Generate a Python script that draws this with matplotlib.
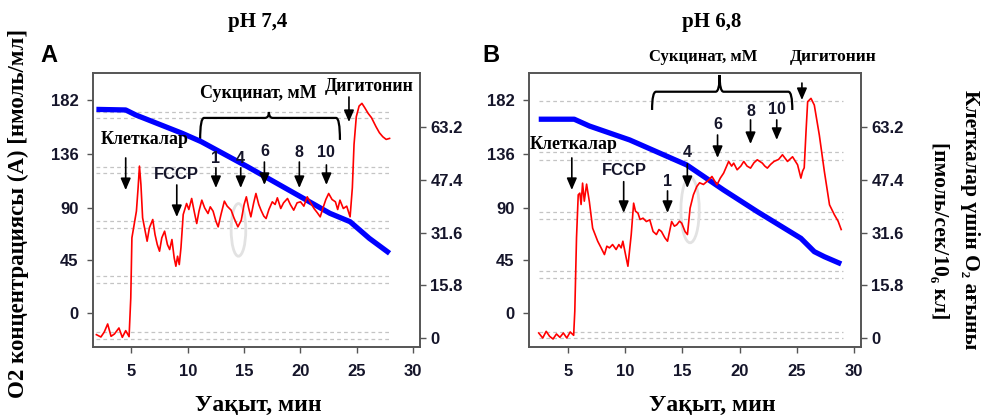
import matplotlib.pyplot as plt
from matplotlib.path import Path
from matplotlib.patches import PathPatch, Ellipse

plt.rcParams['font.family'] = ['Liberation Sans Narrow', 'Liberation Sans', 'DejaVu Sans']
plt.rcParams['font.weight'] = 'bold'
SERIF = ['Liberation Serif', 'DejaVu Serif']

# axis ticks
x_ticks = [5, 10, 15, 20, 25, 30]
left_ticks = [0, 45, 90, 136, 182]
right_ticks = [0, 15.8, 31.6, 47.4, 63.2]

# panel A (pH 7,4): cell O2 flux, red (right axis)
t_red_a = [1.9, 2.3, 2.6, 2.9, 3.2, 3.5, 3.9, 4.2, 4.5, 4.8, 4.95, 5.05, 5.25, 5.45, 5.6,
           5.72, 5.85, 6.0, 6.2, 6.4, 6.6, 6.9, 7.1, 7.3, 7.5, 7.7, 7.95, 8.2, 8.4, 8.6,
           8.8, 8.95, 9.1, 9.25, 9.4, 9.6, 9.9, 10.1, 10.35, 10.6, 10.8, 11.0, 11.25, 11.5,
           11.8, 12.0, 12.25, 12.5, 12.7, 12.95, 13.25, 13.5, 13.85, 14.1, 14.45, 14.75,
           15.0, 15.2, 15.4, 15.6, 15.85, 16.05, 16.3, 16.5, 16.75, 16.95, 17.2, 17.5,
           17.75, 17.95, 18.25, 18.5, 18.85, 19.1, 19.4, 19.7, 20.0, 20.3, 20.6, 20.9,
           21.2, 21.5, 21.75, 22.0, 22.25, 22.5, 22.8, 23.1, 23.3, 23.5, 23.8, 24.1, 24.4,
           24.6, 24.75, 24.95, 25.2, 25.45, 25.7, 26.0, 26.3, 26.7, 27.0, 27.3, 27.6, 27.9]
red_a = [1.0, 0.3, 1.8, 4.2, 0.5, 1.2, 3.0, 0.2, 2.2, 0.4, 12, 30, 34, 38, 45,
         51.5, 46, 36, 32.5, 29, 33, 35.5, 31, 28, 26, 30, 32, 28, 26.5, 29.5,
         24, 21.5, 24.5, 22, 27, 37, 40.3, 38.5, 41.8, 37.5, 34.3, 38, 41.3, 39,
         37.3, 39.3, 38, 35, 33.3, 37, 41, 39.5, 38.3, 36, 33.3, 35.3,
         40, 42.3, 39, 36.3, 40.5, 43.3, 40, 38.3, 36.5, 35.8, 38.5, 40.8,
         40, 42, 38.8, 40.5, 41.8, 40, 38.3, 40.5, 40.8, 39.5, 42.3, 40.5,
         38.8, 37.5, 36.3, 39, 41.5, 43.3, 41.5, 40.8, 38.5, 41.3, 38.8, 39.5, 36.3,
         45, 58, 66.3, 69.5, 70.3, 69, 67.3, 66, 63.3, 61.5, 60.3, 59.5, 59.8]

# panel A: O2 concentration, blue (left axis)
t_blue_a = [1.9, 4.5, 5.4, 9.5, 11.2, 15.3, 20.0, 22.6, 24.4, 26.1, 27.9]
blue_a = [174, 173.5, 169.2, 153.6, 146.4, 125.0, 99.4, 85.2, 78.0, 63.8, 51.0]

# panel B (pH 6,8)
t_red_b = [2.45, 2.8, 3.1, 3.4, 3.7, 4.0, 4.3, 4.6, 4.9, 5.2, 5.5, 5.6, 5.75, 5.9, 6.04,
           6.15, 6.28, 6.43, 6.63, 6.87, 7.16, 7.6, 7.9, 8.19, 8.4, 8.63, 8.9, 9.21, 9.45,
           9.65, 9.8, 10.09, 10.24, 10.53, 10.74, 10.9, 11.12, 11.3, 11.56, 11.85, 12.15,
           12.44, 12.73, 12.95, 13.17, 13.47, 13.7, 14.06, 14.3, 14.5, 14.75, 14.94, 15.23,
           15.44, 15.67, 15.96, 16.26, 16.5, 16.84, 17.14, 17.35, 17.58, 18.02, 18.31,
           18.6, 19.04, 19.3, 19.48, 19.78, 20.1, 20.36, 20.65, 20.95, 21.25, 21.54,
           21.98, 22.2, 22.42, 22.7, 23.0, 23.4, 23.74, 24.18, 24.62, 25.06, 25.35, 25.5,
           25.64, 25.8, 25.94, 26.23, 26.52, 26.96, 27.4, 27.85, 28.28, 28.6, 28.87]
red_b = [1.5, 0.0, 2.0, 0.5, -0.3, 1.2, 0.2, 1.5, 0.0, 1.8, 0.8, 8, 30, 42.9, 43.4,
         40, 46.4, 41, 46.1, 40.9, 32.9, 29.0, 27, 25.0, 27.5, 27.0, 28, 26.5, 28,
         27.0, 29.0, 24.0, 21.5, 31.0, 40.4, 38, 37.4, 35.5, 35.9, 34.9, 35.4,
         31.9, 31.0, 32.5, 31.9, 30.0, 29.0, 34.9, 33.5, 33.9, 35.0, 34.4, 31.9,
         31.0, 38.9, 42.9, 45.4, 46.5, 46.0, 46.9, 47.5, 48.4, 45.9, 47.9,
         49.4, 52.9, 51.5, 52.4, 50.4, 51.5, 52.9, 51.5, 50.9, 52.5, 53.4,
         52.4, 51.5, 50.9, 52.0, 52.9, 53.5, 54.9, 52.9, 54.3, 51.9, 47.9, 50,
         51, 62, 70.8, 71.8, 69.8, 60.8, 49.9, 39.9, 36.9, 35, 32.5]

t_blue_b = [2.45, 5.55, 6.87, 10.39, 15.38, 18.6, 21.54, 25.35, 26.52, 27.4, 28.87]
blue_b = [165.6, 165.6, 159.8, 147.9, 126.5, 105.1, 86.6, 63.8, 52.4, 48.1, 41.9]

# dashed reference lines (left-axis units)
grid_a = [-22.2, -16.2, 25.6, 31.6, 72.6, 78.6, 119.7, 124.8, 166.7, 171.8]
grid_b = [-21.4, -16.2, 29.9, 35.9, 80.3, 86.3, 130.8, 137.6, 181.2]

# arrows: label, x, text y, arrow top, arrow tip
arrows_a = [('1', 12.5, 131.6, 124, 106.8), ('4', 14.7, 131.6, 124, 106.8),
            ('6', 16.8, 137.6, 129, 109.4), ('8', 19.9, 136.8, 129, 106.8),
            ('10', 22.3, 136.8, 126.5, 109.4)]
arrows_b = [('1', 13.7, 112.2, 104.3, 85.5), ('4', 15.43, 136.8, 127.4, 106.8),
            ('6', 18.07, 161.5, 152.1, 132.5), ('8', 20.95, 172.6, 165, 144.4),
            ('10', 23.24, 173.5, 165, 147.9)]

TXT = '#15152a'


def arrow(ax, x, y0, y1):
    ax.annotate('', xy=(x, y1), xytext=(x, y0),
                arrowprops=dict(arrowstyle='-|>,head_length=0.7,head_width=0.3',
                                color='black', lw=1.2, shrinkA=0, shrinkB=0))


def brace(ax, x0, x1, xc, yh, ytip, ycusp):
    dx = 0.35
    verts = [(x0, ytip), (x0, yh), (x0 + dx, yh), (xc - dx, yh), (xc, yh), (xc, ycusp),
             (xc, yh), (xc + dx, yh), (x1 - dx, yh), (x1, yh), (x1, ytip)]
    codes = [Path.MOVETO, Path.CURVE3, Path.CURVE3, Path.LINETO, Path.CURVE3, Path.CURVE3,
             Path.CURVE3, Path.CURVE3, Path.LINETO, Path.CURVE3, Path.CURVE3]
    ax.add_patch(PathPatch(Path(verts, codes), fill=False, lw=1.6, ec='black'))


def panel(rect, t_red, red, t_blue, blue, grid, gx0, gx1):
    ax = fig.add_axes(rect)
    ax.set_xlim(1.6, 30.6)
    ax.set_ylim(-29.1, 205.1)
    ax.hlines(grid, gx0, gx1, colors='#c4c4c4', linestyles=(0, (3, 2.5)), lw=0.9, zorder=1)
    ax.plot(t_blue, blue, color='#0000ff', lw=3.8, solid_capstyle='butt', zorder=3)
    ax.set_xticks(x_ticks)
    ax.set_yticks(left_ticks)
    ax2 = ax.twinx()
    ax2.set_ylim(-2.7, 79.4)
    ax2.set_yticks(right_ticks)
    ax2.set_yticklabels(['0', '15.8', '31.6', '47.4', '63.2'])
    ax2.plot(t_red, red, color='#ff0000', lw=1.2, zorder=3)
    for a in (ax, ax2):
        for s in a.spines.values():
            s.set_color('#555555')
            s.set_linewidth(1.2)
        a.tick_params(direction='out', length=4.5, width=1, color='#555555',
                      labelsize=12, labelcolor=TXT, pad=3)
    ax.tick_params(axis='x', pad=8)
    ax.tick_params(axis='y', pad=6)
    return ax, ax2


fig = plt.figure(figsize=(9.84, 4.18), dpi=100)

# ---------- panel A ----------
ax, ax2 = panel([93 / 984, 1 - 347 / 418, 327 / 984, 274 / 418],
                t_red_a, red_a, t_blue_a, blue_a, grid_a, 1.85, 27.9)
ax.add_patch(Ellipse((14.5, 71), 1.3, 45, fill=False, ec='#e2e2e2', lw=2, zorder=2))
ax.text(6.2, 148, 'Клеткалар', family=SERIF, fontsize=12.8, ha='center', va='center')
arrow(ax, 4.5, 132.5, 105)
ax.text(9.03, 118, 'FCCP', fontsize=12, color=TXT, ha='center', va='center',
        family=['Liberation Sans', 'DejaVu Sans'])
arrow(ax, 9.03, 109.4, 82)
for lab, x, ty, y0, y1 in arrows_a:
    ax.text(x, ty, lab, fontsize=11.5, color=TXT, ha='center', va='center')
    arrow(ax, x, y0, y1)
brace(ax, 11.1, 23.5, 17.2, 166.7, 147.9, 171.8)
ax.text(16.3, 188, 'Сукцинат, мМ', family=SERIF, fontsize=13, ha='center', va='center')
ax.text(26.1, 193.2, 'Дигитонин', family=SERIF, fontsize=12.8, ha='center', va='center')
arrow(ax, 24.3, 184.6, 163.2)

# ---------- panel B ----------
bx, bx2 = panel([529 / 984, 1 - 347 / 418, 332 / 984, 274 / 418],
                t_red_b, red_b, t_blue_b, blue_b, grid_b, 2.45, 29.0)
bx.add_patch(Ellipse((15.67, 88), 1.6, 56, fill=False, ec='#e2e2e2', lw=2, zorder=2))
bx.text(5.46, 143.6, 'Клеткалар', family=SERIF, fontsize=12.8, ha='center', va='center')
arrow(bx, 5.34, 132.5, 105.1)
bx.text(9.89, 121.4, 'FCCP', fontsize=12, color=TXT, ha='center', va='center',
        family=['Liberation Sans', 'DejaVu Sans'])
arrow(bx, 9.87, 112.2, 85.5)
for lab, x, ty, y0, y1 in arrows_b:
    bx.text(x, ty, lab, fontsize=11.5, color=TXT, ha='center', va='center')
    arrow(bx, x, y0, y1)
brace(bx, 12.35, 24.6, 18.25, 189.1, 173.5, 203.4)
arrow(bx, 25.44, 196.5, 182)
fig.text(703 / 984, 1 - 57 / 418, 'Сукцинат, мМ', family=SERIF, fontsize=12,
         ha='center', va='center')
fig.text(833 / 984, 1 - 57 / 418, 'Дигитонин', family=SERIF, fontsize=12.5,
         ha='center', va='center')

# ---------- figure texts ----------
fig.text(258 / 984, 1 - 22 / 418, 'pH 7,4', family=SERIF, fontsize=15, ha='center', va='center')
fig.text(712 / 984, 1 - 22 / 418, 'pH 6,8', family=SERIF, fontsize=15, ha='center', va='center')
fig.text(40 / 984, 1 - 55 / 418, 'A', fontsize=17, ha='left', va='center',
         family=['Liberation Sans', 'DejaVu Sans'])
fig.text(482 / 984, 1 - 55 / 418, 'B', fontsize=17, ha='left', va='center',
         family=['Liberation Sans', 'DejaVu Sans'])
fig.text(258 / 984, 1 - 405 / 418, 'Уақыт, мин', family=SERIF, fontsize=17, ha='center', va='center')
fig.text(712 / 984, 1 - 405 / 418, 'Уақыт, мин', family=SERIF, fontsize=17, ha='center', va='center')
fig.text(18 / 984, 1 - 213 / 418, 'O2 концентрациясы (А) [нмоль/мл]', family=SERIF,
         fontsize=16.5, rotation=90, ha='center', va='center')
fig.text(970 / 984, 1 - 220 / 418, 'Клеткалар үшін O₂ ағыны', family=SERIF,
         fontsize=15.5, rotation=270, ha='center', va='center')
fig.text(939 / 984, 1 - 231 / 418, '[пмоль/сек/10₆ кл]', family=SERIF,
         fontsize=15.5, rotation=270, ha='center', va='center')

fig.savefig('out.png', dpi=100)
